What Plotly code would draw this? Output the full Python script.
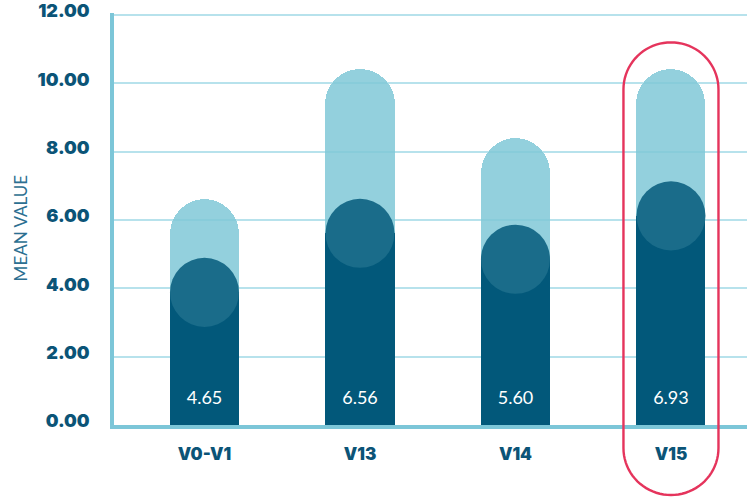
import math
import plotly.graph_objects as go

# ---------------- data ----------------
categories = ["V0-V1", "V13", "V14", "V15"]
mean_values = [4.65, 6.56, 5.60, 6.93]        # printed values
dark_heights = [4.88, 6.61, 5.85, 7.12]       # top of the dark (front) bar
light_heights = [6.63, 10.41, 8.40, 10.41]    # top of the light (back) capsule
y_min, y_max, y_step = 0, 12, 2
y_title = "MEAN VALUE"
highlight = "V15"
highlight_top = 11.2
highlight_bottom = -2.05
label_level = 0.75

# ---------------- layout constants ----------------
W, H = 747, 497
L, R, T, B = 114, 0, 8, 72
XMIN, XMAX = -0.582, 3.489
YMIN, YMAX = y_min, y_max + 0.06
plot_h = H - T - B
plot_w = W - L - R
px_per_y = plot_h / (YMAX - YMIN)
px_per_x = plot_w / (XMAX - XMIN)
BAR_W = 0.444
r_px = BAR_W * px_per_x / 2
r_y = r_px / px_per_y

LIGHT = "rgba(128,200,215,0.85)"
DARK = "#02587a"
CIRCLE = "#1a6c8a"
TEXT = "#0b5477"
GRID = "#b7e2ec"
AXIS = "#7cc6d8"
RED = "#e5345c"

xs = list(range(len(categories)))
centers = [h - r_y for h in dark_heights]

fig = go.Figure()
fig.add_bar(x=xs, y=light_heights, width=BAR_W,
            marker=dict(color=LIGHT, cornerradius="50%", line_width=0),
            hoverinfo="skip", showlegend=False)
fig.add_bar(x=xs, y=centers, width=BAR_W,
            marker=dict(color=DARK, line_width=0),
            hoverinfo="skip", showlegend=False)
fig.add_scatter(x=xs, y=centers, mode="markers",
                marker=dict(size=2 * r_px, color=CIRCLE, line_width=0),
                hoverinfo="skip", showlegend=False)
fig.add_scatter(x=xs, y=[label_level] * len(xs), mode="text",
                text=[f"{v:.2f}" for v in mean_values],
                textfont=dict(family="Lato", size=18, color="white"),
                hoverinfo="skip", showlegend=False)

# highlight pill around one category
PILL_R_PX = 47.5
cx = categories.index(highlight)
rx = PILL_R_PX / px_per_x
ryp = PILL_R_PX / plot_h
top_p = (highlight_top - YMIN) / (YMAX - YMIN)
bot_p = (highlight_bottom - YMIN) / (YMAX - YMIN)
pts = []
n = 40
cb = bot_p + ryp
for i in range(n + 1):
    th = math.pi + math.pi * i / n
    pts.append((cx + rx * math.cos(th), cb + ryp * math.sin(th)))
ct = top_p - ryp
for i in range(n + 1):
    th = math.pi * i / n
    pts.append((cx + rx * math.cos(th), ct + ryp * math.sin(th)))
path = "M " + " L ".join(f"{x:.5f},{y:.5f}" for x, y in pts) + " Z"
fig.add_shape(type="path", path=path, xref="x", yref="paper",
              line=dict(color=RED, width=2.4), fillcolor="rgba(0,0,0,0)",
              layer="above")

# rotated y-axis title (placed slightly below the axis middle, as in the reference)
fig.add_annotation(text=y_title, textangle=-90, showarrow=False,
                   xref="paper", yref="paper",
                   x=(20 - L) / plot_w, y=(H - B - 226) / plot_h,
                   xanchor="center", yanchor="middle",
                   font=dict(family="Lato", size=17, color="#2c6f91", weight=400))

fig.update_layout(
    width=W, height=H,
    margin=dict(l=L, r=R, t=T, b=B, pad=0),
    paper_bgcolor="white", plot_bgcolor="white",
    barmode="overlay", bargap=0,
    showlegend=False,
    xaxis=dict(range=[XMIN, XMAX], tickvals=xs, ticktext=categories,
               showgrid=False, zeroline=False,
               showline=True, linecolor=AXIS, linewidth=3.5,
               ticks="", ticklabelstandoff=11,
               tickfont=dict(family="Inter", size=17, color=TEXT, weight=900)),
    yaxis=dict(range=[YMIN, YMAX], tickmode="linear", tick0=y_min, dtick=y_step,
               tickformat=".2f", ticklabeloverflow="allow",
               showgrid=True, gridcolor=GRID, gridwidth=1.5,
               zeroline=False,
               showline=True, linecolor=AXIS, linewidth=3.5,
               ticks="", ticklabelstandoff=17, ticklabelshift=-4,
               tickfont=dict(family="Inter", size=18, color=TEXT, weight=900)),
)

fig.write_html("out.html")
